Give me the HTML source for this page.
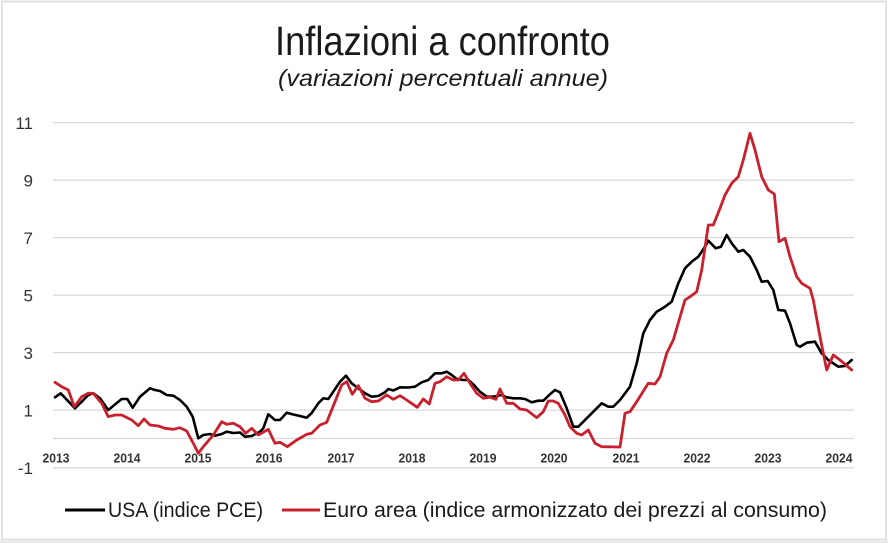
<!DOCTYPE html>
<html><head><meta charset="utf-8"><style>
html,body{margin:0;padding:0;background:#fff;}
svg{display:block;}
text{font-family:"Liberation Sans",sans-serif;}
</style></head><body>
<svg width="888" height="543" viewBox="0 0 888 543" xmlns="http://www.w3.org/2000/svg">
<rect x="0" y="0" width="888" height="543" fill="#fff"/>
<rect x="2" y="1.5" width="884" height="538" fill="none" stroke="#e2e2e2" stroke-width="2"/>
<rect x="0" y="540" width="888" height="3" fill="#ebebeb"/>
<text x="442.5" y="55" font-size="41" fill="#1a1a1a" text-anchor="middle" textLength="335" lengthAdjust="spacingAndGlyphs">Inflazioni a confronto</text>
<text x="443" y="86" font-size="23" font-style="italic" fill="#1a1a1a" text-anchor="middle" textLength="330" lengthAdjust="spacingAndGlyphs">(variazioni percentuali annue)</text>
<g stroke="#d9d9d9" stroke-width="1.3">
<line x1="53" y1="122.6" x2="854" y2="122.6"/>
<line x1="53" y1="180.1" x2="854" y2="180.1"/>
<line x1="53" y1="237.6" x2="854" y2="237.6"/>
<line x1="53" y1="295.1" x2="854" y2="295.1"/>
<line x1="53" y1="352.6" x2="854" y2="352.6"/>
<line x1="53" y1="410.1" x2="854" y2="410.1"/>
<line x1="53" y1="438.5" x2="854" y2="438.5"/>
<line x1="53" y1="467.8" x2="854" y2="467.8"/>
</g>
<g font-size="17" fill="#333" text-anchor="end">
<text x="33" y="129">11</text>
<text x="33" y="186.5">9</text>
<text x="33" y="244">7</text>
<text x="33" y="301.5">5</text>
<text x="33" y="359">3</text>
<text x="33" y="416.5">1</text>
<text x="33" y="474">-1</text>
</g>
<g font-size="13" font-weight="bold" fill="#333" text-anchor="middle">
<text x="56" y="462.5" textLength="27" lengthAdjust="spacingAndGlyphs">2013</text>
<text x="127" y="462.5" textLength="27" lengthAdjust="spacingAndGlyphs">2014</text>
<text x="198" y="462.5" textLength="27" lengthAdjust="spacingAndGlyphs">2015</text>
<text x="269" y="462.5" textLength="27" lengthAdjust="spacingAndGlyphs">2016</text>
<text x="341" y="462.5" textLength="27" lengthAdjust="spacingAndGlyphs">2017</text>
<text x="412" y="462.5" textLength="27" lengthAdjust="spacingAndGlyphs">2018</text>
<text x="483" y="462.5" textLength="27" lengthAdjust="spacingAndGlyphs">2019</text>
<text x="554" y="462.5" textLength="27" lengthAdjust="spacingAndGlyphs">2020</text>
<text x="626" y="462.5" textLength="27" lengthAdjust="spacingAndGlyphs">2021</text>
<text x="697" y="462.5" textLength="27" lengthAdjust="spacingAndGlyphs">2022</text>
<text x="768" y="462.5" textLength="27" lengthAdjust="spacingAndGlyphs">2023</text>
<text x="839" y="462.5" textLength="27" lengthAdjust="spacingAndGlyphs">2024</text>
</g>
<polyline fill="none" stroke="#000" stroke-width="2.6" stroke-linejoin="round" stroke-linecap="round" points="55,397.3 60.7,393.3 75,408.3 81.7,401.7 88.3,395 93.3,393.3 100,398.3 108.3,410 121.7,399 127.3,399 132.7,407.7 140,396.7 150,388.3 155,390 160,391 166.7,395 173.3,395.7 180,400 186.7,406.7 192.7,416.7 198.3,438.3 203.3,435 210,434 215,435.7 221.7,434 226.7,431.7 233.3,433 240,432.5 245,436.7 251.7,436 260,431.7 263.3,428.3 268.3,414.3 275,420 280,420 286.7,412.7 293.3,414.5 300,416 306.7,417.7 311.7,413 318.3,403.3 323.3,398.3 328.3,399 333.3,391.7 340,381.7 346,375.7 351.7,383.3 358.3,388.3 365,393.3 371.7,396.7 378.3,396 385,392.3 388.3,389 393.3,390.5 400,387.3 408.3,387.5 415,386.7 421.7,382.3 428.3,380 435,373.3 441.7,373.3 446.7,371.7 451.7,375 456.7,379 463.3,380 468.3,380 473.3,384.3 480,391.7 486.7,396.7 493.3,396.7 501.7,395 506.7,397.3 513.3,398.3 520,398.3 525,399 531.7,402.3 538.3,400.7 543.3,400.7 550,394.3 555,390 560,392.3 566.7,408.3 573.3,426.7 578.3,426.7 586.7,418.3 593.3,411.7 601.7,403.3 608.3,406.7 613.3,406.7 620,400 630,386.7 636.7,363.3 643.3,333.3 650,320 656.7,311.7 665,306.7 671.7,301.7 678.3,283.3 685,268.3 691.7,261.7 698.3,256.7 705,246.7 708.3,240.7 715.7,248.3 721,246.7 726.7,235 731.7,243.3 738.3,251.7 743.3,250 750,256.7 756.7,270 761.7,281.7 767.7,281 773.3,290 778.3,310 785,310.7 790,323.3 796.7,345 800,346.7 806.7,342.7 815,341.7 821.7,353.3 828.3,360 838.3,366.7 845,366 851.7,360"/>
<polyline fill="none" stroke="#c8202c" stroke-width="2.8" stroke-linejoin="round" stroke-linecap="round" points="55,382.3 61.7,386.7 68.3,390 74.3,406.7 81.7,396.7 88.3,393.3 93.3,393.3 101.7,403.3 108.3,416.7 115,415 121.7,415 131.7,420 138.3,425.7 144,419 150,425 158.3,426 165,428.3 173.3,429.3 180,427.7 186.7,431 193.3,443.3 198.3,453.3 203.3,446.7 213.3,435 221.7,421.7 226.7,424.3 233.3,423.3 240,426.7 245.7,433.3 251.7,428.3 258.3,435 268.3,429.3 275,443.3 280,442.3 287.3,446.7 296.7,440 306.7,434.3 311.7,433.3 320,425 326.7,422.3 335,401.7 341.7,385 346.7,381.7 352.3,394.3 358.3,385.7 365,398.3 371.7,401.7 378.3,401 386.7,395 393.3,399.3 400,395.7 406.7,400 417.3,407.3 423.3,399 429.3,404 435,383.3 440,381.7 446.7,376.7 453.3,380 458.3,380 464,373.3 470,383.3 476.7,393.3 483.3,398.3 490,397.3 496,399.3 500,389 506.7,403.3 513.3,403.3 520,409 526.7,410 536.7,417.7 543.3,411.7 548.3,401 553.3,401 558.3,403.3 565,415 570,426.7 576.7,433.3 581.7,435 588.3,430 595,443.3 601.7,446.7 620,447 625,413.3 630,411.7 636.7,401.7 648.3,383.3 655,384 660,376.7 666.7,353.3 673.3,340 685,300 690,296.7 696.7,291.7 701.7,270 708.3,225 713.3,225 720,208.3 725,195 731.7,183.3 738.3,176.7 743.3,160 750,133.3 755,150 761.7,176.7 768.3,190 774.3,194 779,241.7 785,238.3 790,256.7 796.7,276.7 801.7,283.3 810,288.3 813.3,300 820,336.7 826.7,370 833.3,355 840,360 851.7,370"/>
<line x1="65" y1="510" x2="105" y2="510" stroke="#000" stroke-width="3"/>
<text x="108" y="517" font-size="21" fill="#1a1a1a" textLength="155" lengthAdjust="spacingAndGlyphs">USA (indice PCE)</text>
<line x1="282" y1="510" x2="320" y2="510" stroke="#c8202c" stroke-width="3"/>
<text x="323" y="517" font-size="21" fill="#1a1a1a" textLength="504" lengthAdjust="spacingAndGlyphs">Euro area (indice armonizzato dei prezzi al consumo)</text>
</svg>
</body></html>
